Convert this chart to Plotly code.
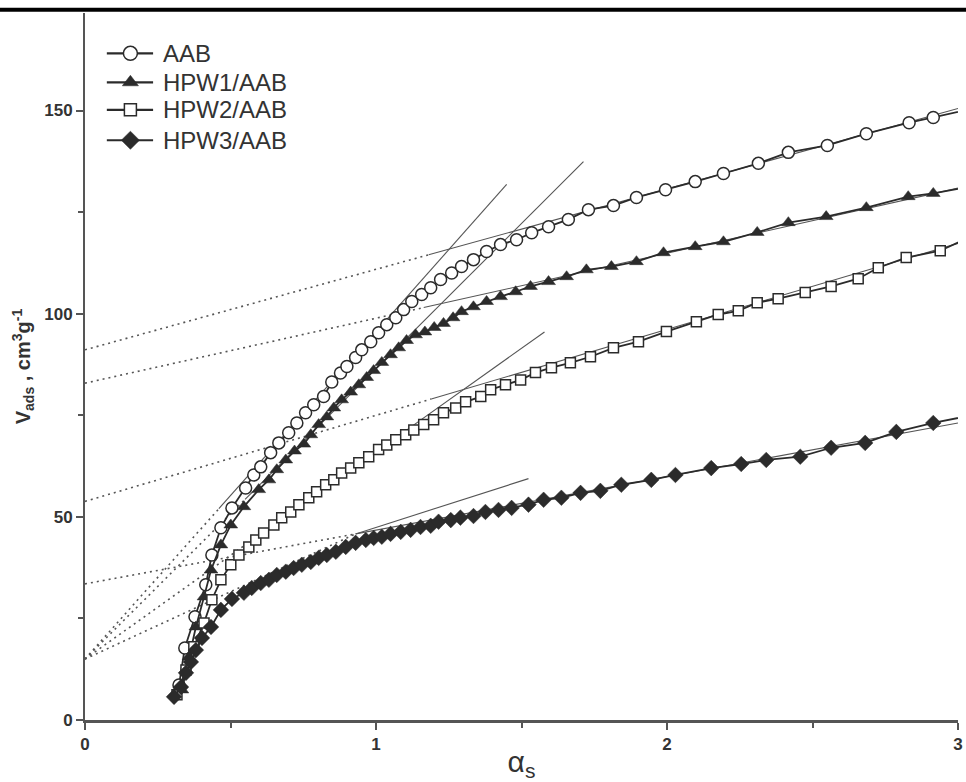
import plotly.graph_objects as go

# ---------------- data ----------------
aab_x = [0.323, 0.343, 0.378, 0.415, 0.436, 0.467, 0.505, 0.552, 0.580, 0.604, 0.638, 0.666,
         0.700, 0.728, 0.758, 0.786, 0.820, 0.848, 0.878, 0.900, 0.930, 0.951, 0.982, 1.009,
         1.037, 1.068, 1.095, 1.123, 1.157, 1.188, 1.222, 1.260, 1.294, 1.335, 1.380, 1.428,
         1.483, 1.535, 1.593, 1.661, 1.730, 1.816, 1.895, 1.995, 2.097, 2.194, 2.314, 2.417,
         2.551, 2.685, 2.832, 2.915, 3.06]
aab_y = [8.6, 17.7, 25.4, 33.3, 40.6, 47.3, 52.2, 57.1, 60.3, 62.3, 65.8, 68.2,
         70.7, 73.1, 75.6, 77.6, 79.6, 83.2, 85.4, 87.0, 89.2, 91.1, 93.1, 95.3,
         97.3, 99.0, 101.0, 103.0, 104.7, 106.4, 108.4, 110.0, 111.6, 113.3, 115.3, 117.0,
         118.2, 119.9, 121.4, 123.2, 125.6, 126.6, 128.6, 130.5, 132.5, 134.5, 137.0, 139.7,
         141.4, 144.3, 147.0, 148.3, 150.6]

hpw1_x = [0.333, 0.357, 0.381, 0.409, 0.433, 0.467, 0.501, 0.546, 0.597, 0.632, 0.659, 0.690,
          0.720, 0.752, 0.776, 0.803, 0.831, 0.855, 0.882, 0.913, 0.941, 0.968, 0.992, 1.020,
          1.050, 1.078, 1.105, 1.136, 1.168, 1.200, 1.232, 1.265, 1.294, 1.335, 1.380, 1.428,
          1.480, 1.531, 1.593, 1.655, 1.723, 1.809, 1.895, 1.988, 2.097, 2.194, 2.310, 2.417,
          2.547, 2.685, 2.829, 2.915, 3.06]
hpw1_y = [7.4, 15.5, 22.9, 30.3, 36.9, 43.1, 48.0, 52.5, 56.7, 59.1, 61.6, 64.0,
          66.2, 67.9, 70.2, 72.7, 74.6, 76.8, 78.8, 80.7, 82.5, 84.3, 86.0, 88.0,
          89.9, 91.6, 93.4, 94.8, 95.5, 96.6, 97.6, 99.0, 100.5, 101.7, 103.0, 104.2,
          105.4, 106.7, 107.9, 109.1, 110.8, 111.6, 112.8, 115.0, 116.5, 117.7, 120.0, 122.4,
          123.9, 126.1, 128.8, 129.6, 131.5]

hpw2_x = [0.316, 0.347, 0.374, 0.409, 0.436, 0.467, 0.501, 0.529, 0.563, 0.587, 0.614, 0.649,
          0.676, 0.707, 0.735, 0.769, 0.796, 0.827, 0.855, 0.882, 0.913, 0.941, 0.975, 1.009,
          1.037, 1.068, 1.102, 1.130, 1.164, 1.198, 1.232, 1.274, 1.308, 1.360, 1.394, 1.445,
          1.497, 1.548, 1.603, 1.668, 1.737, 1.816, 1.902, 1.998, 2.101, 2.176, 2.245, 2.310,
          2.382, 2.475, 2.564, 2.657, 2.726, 2.822, 2.939, 3.06]
hpw2_y = [6.2, 12.3, 18.0, 23.9, 29.6, 34.5, 38.2, 40.6, 42.6, 44.3, 46.0, 48.0,
          49.8, 51.2, 53.0, 54.7, 56.2, 57.9, 59.1, 60.8, 62.0, 63.3, 64.8, 66.6,
          67.7, 69.0, 70.2, 71.4, 72.7, 73.9, 75.6, 76.8, 78.3, 79.6, 81.3, 82.5,
          83.7, 85.5, 86.7, 87.9, 89.4, 91.6, 93.1, 95.6, 98.0, 99.8, 100.7, 102.7,
          103.7, 105.2, 106.7, 108.6, 111.3, 113.8, 115.5, 119.5]

hpw3_x = [0.306, 0.330, 0.347, 0.364, 0.381, 0.402, 0.433, 0.467, 0.505, 0.546, 0.573, 0.604,
          0.632, 0.659, 0.690, 0.717, 0.745, 0.776, 0.803, 0.831, 0.862, 0.896, 0.930, 0.965,
          0.992, 1.020, 1.050, 1.085, 1.119, 1.153, 1.188, 1.215, 1.257, 1.290, 1.335, 1.376,
          1.421, 1.466, 1.524, 1.576, 1.637, 1.703, 1.771, 1.843, 1.946, 2.029, 2.152, 2.255,
          2.341, 2.458, 2.564, 2.681, 2.788, 2.915, 3.06]
hpw3_y = [5.7, 8.1, 11.6, 14.3, 17.2, 20.2, 22.9, 27.1, 29.8, 31.3, 32.5, 33.7,
          34.5, 35.7, 36.5, 37.4, 38.2, 38.9, 39.9, 40.6, 41.4, 42.6, 43.6, 44.3,
          44.8, 45.1, 45.8, 46.3, 46.8, 47.5, 47.8, 48.8, 49.2, 49.8, 50.2, 51.2,
          51.7, 52.2, 53.0, 54.2, 54.7, 55.9, 56.4, 57.9, 59.1, 60.3, 62.0, 63.0,
          64.0, 64.8, 67.0, 68.2, 70.9, 73.1, 75.2]

series_names = ["AAB", "HPW1/AAB", "HPW2/AAB", "HPW3/AAB"]

# fitted alpha-s lines: [x_start, y_start, x_break, y_break, x_end, y_end]
# dotted from start to break, solid from break to end
steep_lines = [
    [0.0, 15.0, 0.46, 52.0, 1.449, 131.8],
    [0.0, 15.0, 0.55, 54.3, 1.713, 137.4],
    [0.0, 15.0, 1.10, 71.1, 1.579, 95.5],
    [0.0, 15.0, 0.93, 45.8, 1.524, 59.4],
]
flat_lines = [
    [0.0, 91.1, 1.181, 114.5, 3.0, 150.5],
    [0.0, 82.9, 1.164, 101.5, 3.0, 130.9],
    [0.0, 53.8, 1.190, 79.0, 3.0, 117.3],
    [0.0, 33.5, 0.930, 45.8, 3.0, 73.1],
]

x_ticks = [0, 1, 2, 3]
y_ticks = [0, 50, 100, 150]

# ---------------- figure ----------------
INK = "#2b2b2b"
FONT = "Liberation Sans, Arial, sans-serif"
fig = go.Figure()

for ln in steep_lines + flat_lines:
    fig.add_trace(go.Scatter(x=[ln[0], ln[2]], y=[ln[1], ln[3]], mode="lines",
                             line=dict(color="#555555", width=1.6, dash="2px,4px"),
                             showlegend=False, hoverinfo="skip"))
    fig.add_trace(go.Scatter(x=[ln[2], ln[4]], y=[ln[3], ln[5]], mode="lines",
                             line=dict(color="#555555", width=1.1),
                             showlegend=False, hoverinfo="skip"))

styles = [
    dict(symbol="circle", size=12, color="white", line=dict(width=1.5, color=INK)),
    dict(symbol="triangle-up", size=12, color=INK, line=dict(width=0.5, color=INK)),
    dict(symbol="square", size=10, color="white", line=dict(width=1.5, color=INK)),
    dict(symbol="diamond", size=12, color=INK, line=dict(width=0.5, color=INK)),
]

for name, xs, ys, st in zip(series_names, [aab_x, hpw1_x, hpw2_x, hpw3_x],
                            [aab_y, hpw1_y, hpw2_y, hpw3_y], styles):
    fig.add_trace(go.Scatter(x=xs, y=ys, mode="lines+markers", name=name,
                             line=dict(color=INK, width=1.8), marker=st, cliponaxis=True,
                             showlegend=False))

# ---- hand-built legend (overlay axes in 0..1 units of the plot area) ----
leg_rows = [0.943, 0.902, 0.863, 0.820]
leg_x0, leg_xm, leg_x1, leg_text_x = 0.025, 0.052, 0.078, 0.0875
for name, st, ry in zip(series_names, styles, leg_rows):
    big = dict(st)
    big["size"] = st["size"] + 2
    fig.add_trace(go.Scatter(x=[leg_x0, leg_x1], y=[ry, ry], mode="lines", xaxis="x2", yaxis="y2",
                             line=dict(color=INK, width=2.2), showlegend=False, hoverinfo="skip"))
    fig.add_trace(go.Scatter(x=[leg_xm], y=[ry], mode="markers", xaxis="x2", yaxis="y2",
                             marker=big, showlegend=False, hoverinfo="skip"))
    fig.add_annotation(x=leg_text_x, y=ry, xref="paper", yref="paper", text=name,
                       showarrow=False, xanchor="left", yanchor="middle",
                       font=dict(family=FONT, size=24, color="#333333"))

tickfont = dict(family=FONT, size=17, color="#333333", weight="bold")

fig.update_layout(
    width=966, height=782,
    margin=dict(l=85, r=3, t=13, b=62),
    paper_bgcolor="white", plot_bgcolor="white",
    showlegend=False,
    xaxis=dict(range=[0, 3], tickvals=x_ticks, ticktext=[str(v) for v in x_ticks],
               showgrid=False, zeroline=False, showline=True, linecolor="#555555", linewidth=2.5,
               ticks="outside", ticklen=7, tickwidth=1.5, tickcolor="#555555", tickfont=tickfont,
               ticklabeloverflow="allow",
               minor=dict(dtick=0.5, tick0=0, ticks="outside", ticklen=5, tickcolor="#555555", tickwidth=1.5),
               title=dict(text="α<sub>s</sub>", font=dict(family=FONT, size=30, color="#333333"), standoff=2)),
    yaxis=dict(range=[0, 174], tickvals=y_ticks, ticktext=[str(v) for v in y_ticks],
               showgrid=False, zeroline=False, showline=True, linecolor="#555555", linewidth=2,
               ticks="outside", ticklen=7, tickwidth=1.5, tickcolor="#555555", tickfont=tickfont,
               ticklabeloverflow="allow",
               minor=dict(dtick=25, tick0=0, ticks="outside", ticklen=5, tickcolor="#555555", tickwidth=1.5),
               title=dict(text="<b>V<sub>ads</sub> , cm<sup>3</sup>g<sup>-1</sup></b>",
                          font=dict(family=FONT, size=20, color="#333333"), standoff=8)),
    xaxis2=dict(range=[0, 1], overlaying="x", visible=False, fixedrange=True),
    yaxis2=dict(range=[0, 1], overlaying="y", visible=False, fixedrange=True),
    shapes=[
        dict(type="line", xref="paper", yref="paper", x0=-0.2, x1=1.2, y0=1.0045, y1=1.0045,
             line=dict(color="black", width=4), layer="above"),
    ],
)

fig.write_html("out.html")
